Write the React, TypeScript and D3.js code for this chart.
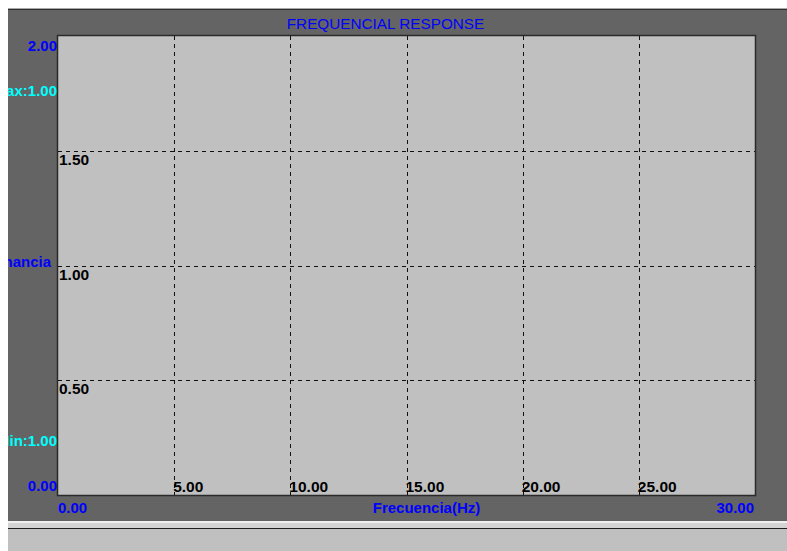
import React from "react";
import * as d3 from "d3";

const title = "FREQUENCIAL RESPONSE";
const xDomain = [0, 30];
const yDomain = [0, 2];
const xGridTicks = [5, 10, 15, 20, 25];
const yGridTicks = [0.5, 1.0, 1.5];
const xAxisLabel = "Frecuencia(Hz)";
const yAxisLabel = "Ganancia";
const maxLabel = "Max:1.00";
const minLabel = "Min:1.00";

const W = 787;
const H = 551;
const plot = { left: 58, top: 36, right: 755, bottom: 495 };

export default function App() {
  const x = d3.scaleLinear().domain(xDomain).range([plot.left, plot.right]);
  const y = d3.scaleLinear().domain(yDomain).range([plot.bottom, plot.top]);
  const font = "'Liberation Sans', Arial, sans-serif";
  const fmt = d3.format(".2f");
  return (
    <svg
      width={W}
      height={H}
      style={{ position: "absolute", left: 0, top: 0, display: "block" }}
    >
      <defs>
        <clipPath id="panelClip">
          <rect x={8} y={0} width={W - 8} height={H} />
        </clipPath>
      </defs>
      <rect x={0} y={0} width={W} height={H} fill="#ffffff" />
      {/* panel */}
      <rect x={8} y={8} width={W - 8} height={1} fill="#a8a8a8" />
      <rect x={8} y={9} width={W - 8} height={1} fill="#303030" />
      <rect x={8} y={10} width={W - 8} height={511} fill="#646464" />
      <rect x={8} y={521} width={W - 8} height={2} fill="#f0f0f0" />
      <rect x={8} y={523} width={W - 8} height={5} fill="#d4d4d4" />
      <rect x={8} y={528} width={W - 8} height={1} fill="#202020" />
      <rect x={8} y={529} width={W - 8} height={H - 529} fill="#c0c0c0" />

      {/* plot area */}
      <rect
        x={plot.left}
        y={plot.top}
        width={plot.right - plot.left}
        height={plot.bottom - plot.top}
        fill="#c0c0c0"
      />
      {xGridTicks.map((t) => (
        <line
          key={"gx" + t}
          x1={Math.round(x(t)) + 0.5}
          x2={Math.round(x(t)) + 0.5}
          y1={plot.top}
          y2={plot.bottom}
          stroke="#111"
          strokeDasharray="4,4"
        />
      ))}
      {yGridTicks.map((t) => (
        <line
          key={"gy" + t}
          y1={Math.round(y(t)) + 0.5}
          y2={Math.round(y(t)) + 0.5}
          x1={plot.left}
          x2={plot.right}
          stroke="#111"
          strokeDasharray="4,4"
        />
      ))}
      <rect
        x={plot.left - 0.5}
        y={plot.top - 0.5}
        width={plot.right - plot.left + 1}
        height={plot.bottom - plot.top + 1}
        fill="none"
        stroke="#2a2a2a"
        strokeWidth={1.5}
      />

      {/* inner tick labels */}
      <g fontFamily={font} fontSize={15.5} fontWeight="bold" fill="#000">
        {xGridTicks.map((t) => (
          <text key={"tx" + t} x={x(t) - 1} y={492}>
            {fmt(t)}
          </text>
        ))}
        {yGridTicks.map((t) => (
          <text key={"ty" + t} x={plot.left + 1} y={y(t) + 14}>
            {fmt(t)}
          </text>
        ))}
      </g>

      {/* title */}
      <text
        x={385.5}
        y={29}
        textAnchor="middle"
        fontFamily={font}
        fontSize={15.3}
        fill="#0000ff"
      >
        {title}
      </text>

      {/* y side labels */}
      <g clipPath="url(#panelClip)" fontFamily={font} fontSize={15} fontWeight="bold">
        <text x={57} y={51} textAnchor="end" fill="#0000ff">
          {fmt(yDomain[1])}
        </text>
        <text x={57} y={96} textAnchor="end" fill="#00ffff">
          {maxLabel}
        </text>
        <text x={51} y={267} textAnchor="end" fill="#0000ff">
          {yAxisLabel}
        </text>
        <text x={57} y={446} textAnchor="end" fill="#00ffff">
          {minLabel}
        </text>
        <text x={57} y={491} textAnchor="end" fill="#0000ff">
          {fmt(yDomain[0])}
        </text>
      </g>

      {/* x side labels */}
      <g fontFamily={font} fontSize={15} fontWeight="bold" fill="#0000ff">
        <text x={plot.left} y={513}>
          {fmt(xDomain[0])}
        </text>
        <text x={(plot.left + plot.right) / 2 + 20} y={513} textAnchor="middle">
          {xAxisLabel}
        </text>
        <text x={754} y={513} textAnchor="end">
          {fmt(xDomain[1])}
        </text>
      </g>
    </svg>
  );
}
